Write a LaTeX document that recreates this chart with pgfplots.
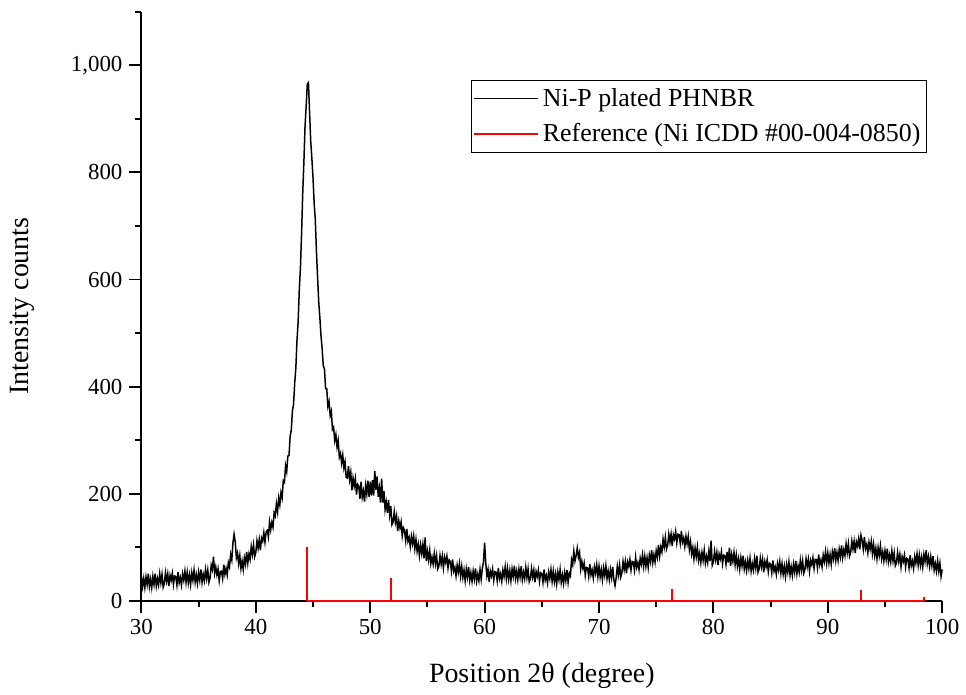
\documentclass[border=0pt]{standalone}
\usepackage{fontspec}
\setmainfont{Liberation Serif}
\usepackage{pgfplots}
\pgfplotsset{compat=1.18}
\begin{document}
\begin{tikzpicture}
\begin{axis}[
  scale only axis, width=402pt, height=295.5pt,
  xmin=30, xmax=100, ymin=0, ymax=1100,
  axis lines=left, axis line style={-, line width=1pt},
  clip=false,
  xtick={30,40,...,100}, minor xtick={35,45,...,95},
  ytick={0,200,...,1000}, minor ytick={100,300,...,1100},
  tick align=outside, major tick length=6pt, minor tick length=3pt,
  tick style={line width=1pt, black},
  ticklabel style={font=\fontsize{11.5}{13}\selectfont},
  /pgf/number format/assume math mode=true,
  /pgf/number format/1000 sep={,},
  xlabel={Position 2θ (degree)}, ylabel={Intensity counts},
  label style={font=\fontsize{14}{16}\selectfont},
  xlabel style={at={(axis description cs:0.5,-0.127)}, anchor=center},
  ylabel style={at={(axis description cs:-0.149,0.5)}, anchor=center},
  legend style={at={(0.981,0.885)}, anchor=north east, draw=black, line width=0.6pt,
    font=\fontsize{13}{15}\selectfont, row sep=3pt, inner xsep=1pt, inner ysep=2pt},
  legend cell align=left,
  legend image code/.code={\draw[#1] (0pt,0pt) -- (32pt,0pt);},
]
\addplot[black, line width=0.75pt] coordinates {
(30.0,46)(30.1,26)(30.2,41)(30.3,24)(30.4,44)(30.5,30)(30.6,50)(30.7,26)(30.8,40)(30.9,24)
(31.0,45)(31.1,30)(31.2,50)(31.3,27)(31.4,41)(31.5,29)(31.6,50)(31.7,33)(31.8,49)(31.9,25)
(32.0,32)(32.1,52)(32.2,36)(32.3,50)(32.4,27)(32.5,47)(32.6,38)(32.7,51)(32.8,30)(32.9,46)
(33.0,45)(33.1,29)(33.2,53)(33.3,33)(33.4,43)(33.5,29)(33.6,50)(33.7,38)(33.8,55)(33.9,34)
(34.0,53)(34.1,33)(34.2,48)(34.3,30)(34.4,52)(34.5,38)(34.6,57)(34.7,34)(34.8,48)(34.9,32)
(35.0,53)(35.1,38)(35.2,58)(35.3,34)(35.4,49)(35.5,37)(35.6,58)(35.7,41)(35.8,57)(35.9,34)
(36.0,42)(36.1,66)(36.2,58)(36.3,82)(36.4,51)(36.5,63)(36.6,48)(36.7,59)(36.8,37)(36.9,54)
(37.0,55)(37.1,41)(37.2,67)(37.3,49)(37.4,60)(37.5,48)(37.6,71)(37.7,63)(37.8,86)(37.9,76)
(38.0,108)(38.1,124)(38.2,110)(38.3,80)(38.4,89)(38.5,69)(38.6,84)(38.7,60)(38.8,74)(38.9,58)
(39.0,80)(39.1,68)(39.2,91)(39.3,70)(39.4,87)(39.5,77)(39.6,101)(39.7,86)(39.8,104)(39.9,82)
(40.0,90)(40.1,112)(40.2,98)(40.3,114)(40.4,94)(40.5,117)(40.6,111)(40.7,127)(40.8,109)(40.9,128)
(41.0,131)(41.1,119)(41.2,147)(41.3,132)(41.4,146)(41.5,137)(41.6,164)(41.7,158)(41.8,181)(41.9,166)
(42.0,192)(42.1,179)(42.2,202)(42.3,192)(42.4,224)(42.5,221)(42.6,252)(42.7,241)(42.8,270)(42.9,271)
(43.0,307)(43.1,319)(43.2,355)(43.3,367)(43.4,407)(43.5,435)(43.6,487)(43.7,521)(43.8,581)(43.9,622)
(44.0,686)(44.1,761)(44.2,818)(44.3,885)(44.4,924)(44.5,965)(44.6,968)(44.7,912)(44.8,858)(44.9,826)
(45.0,790)(45.1,742)(45.2,712)(45.3,652)(45.4,604)(45.5,558)(45.6,528)(45.7,494)(45.8,470)(45.9,438)
(46.0,433)(46.1,396)(46.2,396)(46.3,363)(46.4,372)(46.5,346)(46.6,354)(46.7,320)(46.8,324)(46.9,299)
(47.0,310)(47.1,287)(47.2,299)(47.3,268)(47.4,275)(47.5,257)(47.6,272)(47.7,248)(47.8,259)(47.9,230)
(48.0,229)(48.1,251)(48.2,226)(48.3,240)(48.4,206)(48.5,229)(48.6,214)(48.7,228)(48.8,198)(48.9,217)
(49.0,214)(49.1,190)(49.2,222)(49.3,193)(49.4,205)(49.5,185)(49.6,215)(49.7,199)(49.8,224)(49.9,194)
(50.0,222)(50.1,196)(50.2,225)(50.3,196)(50.4,242)(50.5,207)(50.6,232)(50.7,194)(50.8,210)(50.9,183)
(51.0,228)(51.1,183)(51.2,205)(51.3,170)(51.4,184)(51.5,164)(51.6,188)(51.7,160)(51.8,177)(51.9,142)
(52.0,147)(52.1,166)(52.2,146)(52.3,158)(52.4,130)(52.5,149)(52.6,136)(52.7,147)(52.8,121)(52.9,136)
(53.0,131)(53.1,112)(53.2,134)(53.3,111)(53.4,118)(53.5,101)(53.6,120)(53.7,106)(53.8,121)(53.9,97)
(54.0,114)(54.1,92)(54.2,105)(54.3,84)(54.4,104)(54.5,88)(54.6,105)(54.7,79)(54.8,118)(54.9,74)
(55.0,92)(55.1,76)(55.2,94)(55.3,69)(55.4,81)(55.5,68)(55.6,88)(55.7,69)(55.8,84)(55.9,59)
(56.0,64)(56.1,84)(56.2,68)(56.3,83)(56.4,61)(56.5,81)(56.6,71)(56.7,83)(56.8,61)(56.9,76)
(57.0,73)(57.1,55)(57.2,77)(57.3,55)(57.4,62)(57.5,46)(57.6,66)(57.7,53)(57.8,69)(57.9,46)
(58.0,64)(58.1,43)(58.2,57)(58.3,37)(58.4,59)(58.5,44)(58.6,63)(58.7,38)(58.8,52)(58.9,36)
(59.0,55)(59.1,40)(59.2,60)(59.3,36)(59.4,49)(59.5,37)(59.6,58)(59.7,40)(59.8,60)(59.9,72)
(60.0,108)(60.1,70)(60.2,46)(60.3,58)(60.4,35)(60.5,55)(60.6,46)(60.7,59)(60.8,38)(60.9,54)
(61.0,53)(61.1,37)(61.2,61)(61.3,41)(61.4,50)(61.5,36)(61.6,57)(61.7,45)(61.8,63)(61.9,41)
(62.0,60)(62.1,40)(62.2,56)(62.3,37)(62.4,59)(62.5,45)(62.6,65)(62.7,41)(62.8,55)(62.9,39)
(63.0,59)(63.1,44)(63.2,64)(63.3,39)(63.4,53)(63.5,41)(63.6,62)(63.7,43)(63.8,59)(63.9,35)
(64.0,40)(64.1,60)(64.2,44)(64.3,57)(64.4,34)(64.5,54)(64.6,45)(64.7,57)(64.8,36)(64.9,52)
(65.0,50)(65.1,34)(65.2,58)(65.3,38)(65.4,47)(65.5,33)(65.6,53)(65.7,41)(65.8,58)(65.9,36)
(66.0,55)(66.1,35)(66.2,50)(66.3,31)(66.4,53)(66.5,39)(66.6,58)(66.7,34)(66.8,48)(66.9,32)
(67.0,52)(67.1,37)(67.2,57)(67.3,34)(67.4,51)(67.5,46)(67.6,76)(67.7,67)(67.8,92)(67.9,74)
(68.0,84)(68.1,98)(68.2,81)(68.3,90)(68.4,59)(68.5,73)(68.6,60)(68.7,70)(68.8,47)(68.9,62)
(69.0,61)(69.1,45)(69.2,68)(69.3,48)(69.4,57)(69.5,42)(69.6,63)(69.7,51)(69.8,67)(69.9,45)
(70.0,64)(70.1,44)(70.2,58)(70.3,39)(70.4,61)(70.5,47)(70.6,65)(70.7,41)(70.8,55)(70.9,39)
(71.0,58)(71.1,43)(71.2,63)(71.3,39)(71.4,28)(71.5,42)(71.6,64)(71.7,48)(71.8,66)(71.9,44)
(72.0,52)(72.1,73)(72.2,58)(72.3,73)(72.4,51)(72.5,72)(72.6,64)(72.7,77)(72.8,57)(72.9,73)
(73.0,72)(73.1,57)(73.2,81)(73.3,62)(73.4,71)(73.5,58)(73.6,79)(73.7,68)(73.8,85)(73.9,64)
(74.0,83)(74.1,64)(74.2,80)(74.3,62)(74.4,85)(74.5,73)(74.6,94)(74.7,71)(74.8,86)(74.9,72)
(75.0,93)(75.1,81)(75.2,104)(75.3,83)(75.4,100)(75.5,91)(75.6,115)(75.7,100)(75.8,118)(75.9,96)
(76.0,103)(76.1,124)(76.2,109)(76.3,124)(76.4,102)(76.5,123)(76.6,115)(76.7,129)(76.8,108)(76.9,124)
(77.0,123)(77.1,107)(77.2,130)(77.3,109)(77.4,117)(77.5,101)(77.6,120)(77.7,106)(77.8,120)(77.9,95)
(78.0,110)(78.1,87)(78.2,99)(78.3,78)(78.4,98)(78.5,82)(78.6,100)(78.7,75)(78.8,88)(78.9,71)
(79.0,90)(79.1,75)(79.2,94)(79.3,70)(79.4,83)(79.5,71)(79.6,92)(79.7,74)(79.8,112)(79.9,66)
(80.0,72)(80.1,92)(80.2,76)(80.3,90)(80.4,67)(80.5,87)(80.6,78)(80.7,91)(80.8,69)(80.9,85)
(81.0,84)(81.1,68)(81.2,91)(81.3,71)(81.4,99)(81.5,65)(81.6,86)(81.7,73)(81.8,90)(81.9,67)
(82.0,85)(82.1,64)(82.2,78)(82.3,59)(82.4,80)(82.5,65)(82.6,84)(82.7,59)(82.8,72)(82.9,56)
(83.0,75)(83.1,60)(83.2,79)(83.3,55)(83.4,69)(83.5,57)(83.6,78)(83.7,61)(83.8,84)(83.9,53)
(84.0,59)(84.1,79)(84.2,63)(84.3,77)(84.4,53)(84.5,73)(84.6,63)(84.7,76)(84.8,54)(84.9,70)
(85.0,68)(85.1,52)(85.2,75)(85.3,55)(85.4,63)(85.5,49)(85.6,69)(85.7,57)(85.8,73)(85.9,51)
(86.0,69)(86.1,49)(86.2,64)(86.3,45)(86.4,67)(86.5,53)(86.6,72)(86.7,48)(86.8,63)(86.9,47)
(87.0,68)(87.1,53)(87.2,74)(87.3,50)(87.4,65)(87.5,53)(87.6,75)(87.7,57)(87.8,74)(87.9,51)
(88.0,58)(88.1,78)(88.2,63)(88.3,77)(88.4,55)(88.5,75)(88.6,67)(88.7,80)(88.8,60)(88.9,77)
(89.0,77)(89.1,61)(89.2,86)(89.3,67)(89.4,76)(89.5,63)(89.6,85)(89.7,73)(89.8,91)(89.9,70)
(90.0,89)(90.1,70)(90.2,86)(90.3,68)(90.4,91)(90.5,78)(90.6,98)(90.7,75)(90.8,90)(90.9,75)
(91.0,96)(91.1,82)(91.2,103)(91.3,80)(91.4,95)(91.5,84)(91.6,106)(91.7,89)(91.8,106)(91.9,83)
(92.0,90)(92.1,111)(92.2,96)(92.3,111)(92.4,89)(92.5,110)(92.6,102)(92.7,116)(92.8,96)(92.9,122)
(93.0,113)(93.1,96)(93.2,119)(93.3,97)(93.4,105)(93.5,89)(93.6,109)(93.7,96)(93.8,111)(93.9,88)
(94.0,105)(94.1,84)(94.2,98)(94.3,78)(94.4,99)(94.5,84)(94.6,102)(94.7,78)(94.8,91)(94.9,74)
(95.0,93)(95.1,77)(95.2,97)(95.3,72)(95.4,85)(95.5,72)(95.6,93)(95.7,74)(95.8,89)(95.9,65)
(96.0,70)(96.1,90)(96.2,73)(96.3,86)(96.4,63)(96.5,82)(96.6,73)(96.7,85)(96.8,63)(96.9,79)
(97.0,77)(97.1,61)(97.2,85)(97.3,65)(97.4,74)(97.5,60)(97.6,82)(97.7,70)(97.8,87)(97.9,66)
(98.0,85)(98.1,66)(98.2,81)(98.3,63)(98.4,86)(98.5,73)(98.6,94)(98.7,69)(98.8,82)(98.9,64)
(99.0,82)(99.1,65)(99.2,83)(99.3,57)(99.4,69)(99.5,55)(99.6,74)(99.7,55)(99.8,70)(99.9,45)
(100.0,58)
};
\addlegendentry{Ni-P plated PHNBR}
\addplot[red, line width=1pt] coordinates {(44.5,0)(98.45,0)};
\addlegendentry{Reference (Ni ICDD \#00-004-0850)}
\addplot[red, line width=1pt, ycomb, forget plot] coordinates {
(44.50,100)(51.85,42)(76.38,21)(92.94,20)(98.45,6)
};
\end{axis}
\path (current axis.south west) +(-71pt,-45pt) +(412pt,301.5pt);
\end{tikzpicture}
\end{document}
